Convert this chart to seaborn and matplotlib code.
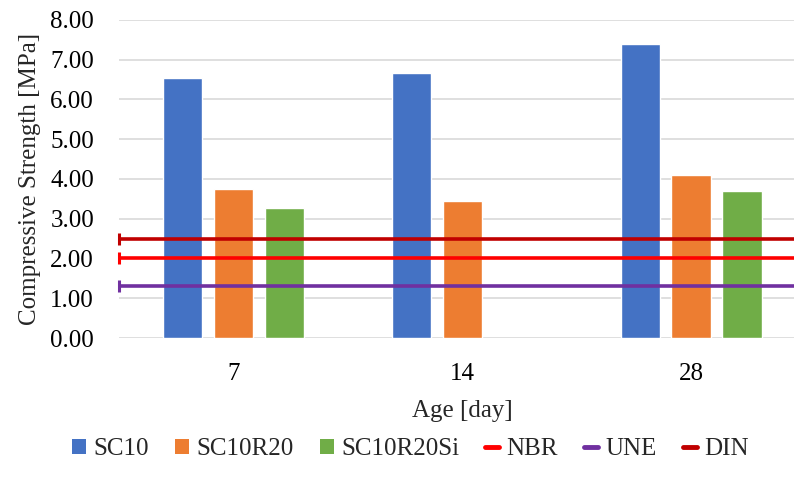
import numpy as np
import pandas as pd
import matplotlib
matplotlib.use("Agg")
import matplotlib.pyplot as plt
from matplotlib.patches import Patch
from matplotlib.lines import Line2D
import seaborn as sns

# Compressive strength by age for each mix
ages = ["7", "14", "28"]
sc10 = [6.53, 6.67, 7.39]
sc10r20 = [3.75, 3.45, 4.10]
sc10r20si = [3.27, np.nan, 3.69]
mixes = ["SC10", "SC10R20", "SC10R20Si"]
mix_colors = ["#4472C4", "#ED7D31", "#70AD47"]

# Minimum strength limits from standards
limit_names = ["NBR", "UNE", "DIN"]
limit_values = [2.0, 1.3, 2.5]
limit_colors = ["#FF0000", "#7030A0", "#C00000"]

y_ticks = [0, 1, 2, 3, 4, 5, 6, 7, 8]

rows = []
for mix, vals in zip(mixes, [sc10, sc10r20, sc10r20si]):
    for age, v in zip(ages, vals):
        if not np.isnan(v):
            rows.append({"Age": age, "Mix": mix, "Strength": v})
df = pd.DataFrame(rows)

sns.set_theme(style="white")
plt.rcParams["font.family"] = ["Liberation Serif", "DejaVu Serif"]

fig = plt.figure(figsize=(7.94, 4.91), dpi=100)
ax = fig.add_axes([0.1499, 0.3116, 0.865, 0.6477])

sns.barplot(data=df, x="Age", y="Strength", hue="Mix", order=ages,
            hue_order=mixes, palette=mix_colors, width=0.668, gap=0.22,
            errorbar=None, ax=ax, legend=False, saturation=1, zorder=2)

# Horizontal reference lines, DIN drawn first, then NBR, then UNE
for idx in [2, 0, 1]:
    ax.axhline(limit_values[idx], color=limit_colors[idx], lw=2.6,
               marker="|", markevery=[0], markersize=8, mew=2.2, zorder=3,
               solid_capstyle="butt", clip_on=False)

ax.set_xlim(-0.5, 2.5)
ax.set_ylim(0, 8)
ax.set_yticks(y_ticks)
ax.set_yticklabels([f"{t:.2f}" for t in y_ticks])
ax.yaxis.grid(True, color="#D9D9D9", lw=1.2, zorder=0)
ax.set_axisbelow(True)
for s in ax.spines.values():
    s.set_visible(False)
ax.tick_params(axis="both", length=0, labelsize=18, colors="#000000")
ax.tick_params(axis="y", pad=18)
ax.tick_params(axis="x", pad=18)
ax.set_xlabel("Age [day]", fontsize=18, labelpad=11)
ax.set_ylabel("Compressive Strength [MPa]", fontsize=18, labelpad=7)

handles = [Patch(facecolor=c, edgecolor="none") for c in mix_colors]
handles += [Line2D([0], [0], color=c, lw=3.5) for c in limit_colors]
labels = mixes + limit_names
fig.legend(handles, labels, loc="center", bbox_to_anchor=(0.517, 0.085),
           ncol=6, frameon=False, fontsize=18, handlelength=0.55,
           handleheight=0.6, handletextpad=0.3, columnspacing=1.05)

fig.savefig("out.png", dpi=100)
